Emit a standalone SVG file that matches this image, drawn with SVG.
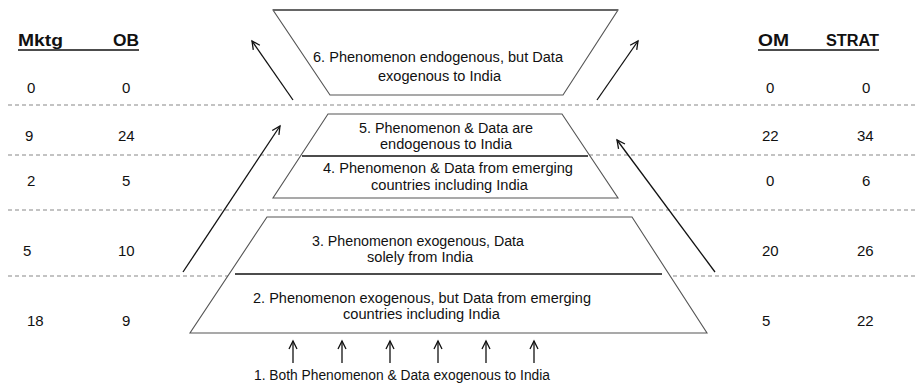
<svg xmlns="http://www.w3.org/2000/svg" width="917" height="386" viewBox="0 0 917 386">
  <style>
    text { font-family: "Liberation Sans", Arial, sans-serif; fill: #111; }
    .lbl { font-size: 14px; }
    .num { font-size: 15px; }
    .hdr { font-size: 16px; font-weight: bold; }
    .tier { fill: #fff; stroke: #555; stroke-width: 1.1; }
    .divider { stroke: #111; stroke-width: 1.6; }
    .dash { stroke: #888; stroke-width: 1.2; stroke-dasharray: 4 3; }
    .arrow { stroke: #111; stroke-width: 1.3; fill: none; marker-end: url(#head); }
  </style>
  <defs>
    <marker id="head" viewBox="-10 -6 12 12" markerWidth="12" markerHeight="12" refX="0" refY="0" orient="auto" markerUnits="userSpaceOnUse">
      <path d="M-8,-4 L0,0 L-8,4" fill="none" stroke="#111" stroke-width="1.3"/>
    </marker>
  </defs>

  <rect width="917" height="386" fill="#fff"/>

  <!-- row separators -->
  <g id="separators">
    <line class="dash" x1="8" y1="105" x2="917" y2="105"/>
    <line class="dash" x1="8" y1="155" x2="917" y2="155"/>
    <line class="dash" x1="8" y1="210" x2="917" y2="210"/>
    <line class="dash" x1="8" y1="276" x2="917" y2="276"/>
  </g>

  <!-- left table: Mktg / OB -->
  <g id="left-table">
    <text class="hdr" x="18" y="46" textLength="45" lengthAdjust="spacingAndGlyphs">Mktg</text>
    <text class="hdr" x="113" y="46" textLength="26" lengthAdjust="spacingAndGlyphs">OB</text>
    <line x1="18" y1="50" x2="139" y2="50" stroke="#111" stroke-width="1.4"/>
    <text class="num" x="27" y="93">0</text>
    <text class="num" x="122" y="93">0</text>
    <text class="num" x="25" y="141">9</text>
    <text class="num" x="118" y="141">24</text>
    <text class="num" x="27" y="186">2</text>
    <text class="num" x="122" y="186">5</text>
    <text class="num" x="23" y="256">5</text>
    <text class="num" x="118" y="256">10</text>
    <text class="num" x="27" y="326">18</text>
    <text class="num" x="122" y="326">9</text>
  </g>

  <!-- right table: OM / STRAT -->
  <g id="right-table">
    <text class="hdr" x="758" y="46" textLength="31" lengthAdjust="spacingAndGlyphs">OM</text>
    <text class="hdr" x="826" y="46" textLength="53" lengthAdjust="spacingAndGlyphs">STRAT</text>
    <line x1="758" y1="50" x2="879" y2="50" stroke="#111" stroke-width="1.4"/>
    <text class="num" x="766" y="93">0</text>
    <text class="num" x="862" y="93">0</text>
    <text class="num" x="762" y="141">22</text>
    <text class="num" x="857" y="141">34</text>
    <text class="num" x="766" y="186">0</text>
    <text class="num" x="862" y="186">6</text>
    <text class="num" x="762" y="256">20</text>
    <text class="num" x="857" y="256">26</text>
    <text class="num" x="762" y="326">5</text>
    <text class="num" x="857" y="326">22</text>
  </g>

  <!-- tier 6: inverted trapezoid at the top -->
  <g id="tier6">
    <polygon class="tier" points="273,10 618,10 563,95 330,95"/>
    <line x1="273" y1="10" x2="618" y2="10" stroke="#666" stroke-width="2"/>
    <text class="lbl" x="313" y="62" textLength="250" lengthAdjust="spacingAndGlyphs">6. Phenomenon endogenous, but Data</text>
    <text class="lbl" x="378" y="81" textLength="123" lengthAdjust="spacingAndGlyphs">exogenous to India</text>
  </g>

  <!-- tiers 5 and 4 share one trapezoid -->
  <g id="tier5">
    <polygon class="tier" points="328,114 562,114 618,198 273,198"/>
    <text class="lbl" x="359" y="133" textLength="174" lengthAdjust="spacingAndGlyphs">5. Phenomenon &amp; Data are</text>
    <text class="lbl" x="380" y="149" textLength="132" lengthAdjust="spacingAndGlyphs">endogenous to India</text>
  </g>
  <g id="tier4">
    <line class="divider" x1="302" y1="156" x2="588" y2="156"/>
    <text class="lbl" x="323" y="173" textLength="250" lengthAdjust="spacingAndGlyphs">4. Phenomenon &amp; Data from emerging</text>
    <text class="lbl" x="371" y="190" textLength="157" lengthAdjust="spacingAndGlyphs">countries including India</text>
  </g>

  <!-- tiers 3 and 2 share the base trapezoid -->
  <g id="tier3">
    <polygon class="tier" points="267,217 632,217 707,333 190,333"/>
    <text class="lbl" x="312" y="246" textLength="212" lengthAdjust="spacingAndGlyphs">3. Phenomenon exogenous, Data</text>
    <text class="lbl" x="367" y="262" textLength="106" lengthAdjust="spacingAndGlyphs">solely from India</text>
  </g>
  <g id="tier2">
    <line class="divider" x1="235" y1="274" x2="662" y2="274"/>
    <text class="lbl" x="253" y="303" textLength="338" lengthAdjust="spacingAndGlyphs">2. Phenomenon exogenous, but Data from emerging</text>
    <text class="lbl" x="343" y="319" textLength="157" lengthAdjust="spacingAndGlyphs">countries including India</text>
  </g>

  <!-- tier 1: label under the base -->
  <g id="tier1">
    <text class="lbl" x="254" y="380" textLength="296" lengthAdjust="spacingAndGlyphs">1. Both Phenomenon &amp; Data exogenous to India</text>
  </g>

  <!-- connectors -->
  <g id="connectors">
    <line class="arrow" x1="293" y1="100" x2="252" y2="41"/>
    <line class="arrow" x1="183" y1="272" x2="280" y2="126"/>
    <line class="arrow" x1="597" y1="100" x2="638" y2="41"/>
    <line class="arrow" x1="715" y1="272" x2="617" y2="140"/>
    <line class="arrow" x1="293" y1="363" x2="293" y2="341"/>
    <line class="arrow" x1="342" y1="363" x2="342" y2="341"/>
    <line class="arrow" x1="390" y1="363" x2="390" y2="341"/>
    <line class="arrow" x1="438" y1="363" x2="438" y2="341"/>
    <line class="arrow" x1="486" y1="363" x2="486" y2="341"/>
    <line class="arrow" x1="534" y1="363" x2="534" y2="341"/>
  </g>
</svg>
